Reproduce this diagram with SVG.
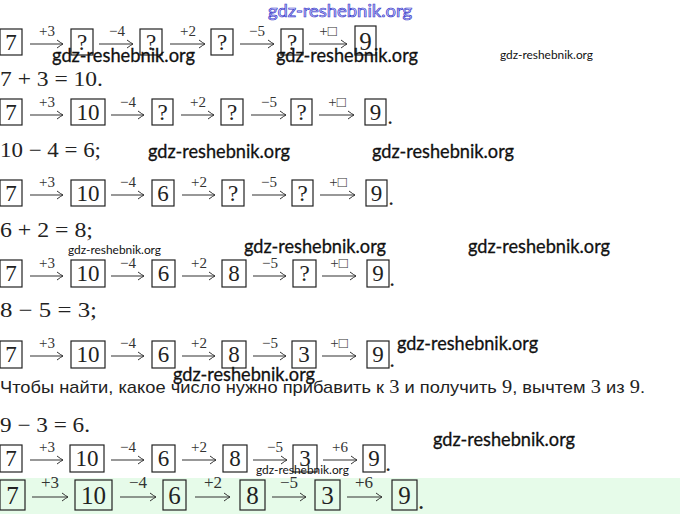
<svg xmlns="http://www.w3.org/2000/svg" width="680" height="514" viewBox="0 0 680 514">
<defs>
<marker id="ah" viewBox="-8 -5 9 10" refX="0" refY="0" markerWidth="9" markerHeight="10" markerUnits="userSpaceOnUse" orient="auto">
<path d="M-6,-4 Q-2,-1 0,0 Q-2,1 -6,4" fill="none" stroke="#333" stroke-width="1"/>
</marker>
<style>
.bx{fill:#fff;stroke:#222;stroke-width:1.2}
.gb{fill:#e6fbe9;stroke:#222;stroke-width:1.2}
.n{font-family:"Liberation Serif","DejaVu Serif",serif;font-size:23px;fill:#222;text-anchor:middle}
.n7{font-family:"Liberation Serif","DejaVu Serif",serif;font-size:25px;fill:#222;text-anchor:middle}
.ar{stroke:#333;stroke-width:1.1;fill:none;marker-end:url(#ah)}
.lb{font-family:"Liberation Serif","DejaVu Serif",serif;font-size:15px;fill:#333;text-anchor:middle}
.lb7{font-family:"Liberation Serif","DejaVu Serif",serif;font-size:17px;fill:#333;text-anchor:middle}
.eq{font-family:"Liberation Serif","DejaVu Serif",serif;font-size:21px;fill:#222}
.wm{font-family:Lato,"Open Sans",sans-serif;font-size:18.5px;fill:#111;stroke:#111;stroke-width:0.3}
.ws{font-family:Lato,"Open Sans",sans-serif;font-size:12px;fill:#111}
.ru{font-family:"Liberation Sans",Arial,sans-serif;font-size:17px;fill:#222}
.dg{font-family:"Liberation Serif",serif;font-size:19px}
</style>
</defs>
<rect x="0" y="478" width="680" height="36" fill="#e6fbe9"/>

<!-- Row 1 -->
<g id="row1">
<g id="r1b1"><rect class="bx" x="0" y="29" width="22" height="26"/><text class="n" x="11" y="50">7</text></g>
<g id="r1b2"><rect class="bx" x="71" y="29" width="22" height="26"/><text class="n" x="82" y="50">?</text></g>
<g id="r1b3"><rect class="bx" x="140" y="29" width="22" height="26"/><text class="n" x="151" y="50">?</text></g>
<g id="r1b4"><rect class="bx" x="211" y="29" width="22" height="26"/><text class="n" x="222" y="50">?</text></g>
<g id="r1b5"><rect class="bx" x="281" y="29" width="22" height="26"/><text class="n" x="292" y="50">?</text></g>
<g id="r1b6"><rect class="bx" x="355" y="26" width="21" height="29"/><text class="n7" x="365.5" y="50">9</text></g>
</g>
<text class="eq" x="0" y="86" textLength="103" lengthAdjust="spacingAndGlyphs">7 + 3 = 10.</text>

<!-- Row 2 -->
<g id="row2">
<g id="r2b1"><rect class="bx" x="0" y="99" width="22" height="26"/><text class="n" x="11" y="120">7</text></g>
<g id="r2b2"><rect class="bx" x="71" y="99" width="34" height="26"/><text class="n" x="88" y="120">10</text></g>
<g id="r2b3"><rect class="bx" x="152" y="99" width="21" height="26"/><text class="n" x="162.5" y="120">?</text></g>
<g id="r2b4"><rect class="bx" x="221" y="99" width="22" height="26"/><text class="n" x="232" y="120">?</text></g>
<g id="r2b5"><rect class="bx" x="291" y="99" width="21" height="26"/><text class="n" x="301.5" y="120">?</text></g>
<g id="r2b6"><rect class="bx" x="365" y="99" width="21" height="26"/><text class="n" x="375.5" y="120">9</text></g>
<text class="n" x="390" y="124">.</text>
</g>
<text class="eq" x="0" y="157" textLength="101" lengthAdjust="spacingAndGlyphs">10 − 4 = 6;</text>

<!-- Row 3 -->
<g id="row3">
<g id="r3b1"><rect class="bx" x="0" y="180" width="22" height="26"/><text class="n" x="11" y="201">7</text></g>
<g id="r3b2"><rect class="bx" x="71" y="180" width="34" height="26"/><text class="n" x="88" y="201">10</text></g>
<g id="r3b3"><rect class="bx" x="152" y="180" width="22" height="26"/><text class="n" x="163" y="201">6</text></g>
<g id="r3b4"><rect class="bx" x="222" y="180" width="22" height="26"/><text class="n" x="233" y="201">?</text></g>
<g id="r3b5"><rect class="bx" x="292" y="180" width="21" height="26"/><text class="n" x="302.5" y="201">?</text></g>
<g id="r3b6"><rect class="bx" x="366" y="180" width="21" height="26"/><text class="n" x="376.5" y="201">9</text></g>
<text class="n" x="391" y="205">.</text>
</g>
<text class="eq" x="0" y="237" textLength="93" lengthAdjust="spacingAndGlyphs">6 + 2 = 8;</text>

<!-- Row 4 -->
<g id="row4">
<g id="r4b1"><rect class="bx" x="0" y="260" width="22" height="27"/><text class="n" x="11" y="281">7</text></g>
<g id="r4b2"><rect class="bx" x="71" y="260" width="34" height="27"/><text class="n" x="88" y="281">10</text></g>
<g id="r4b3"><rect class="bx" x="152" y="260" width="23" height="27"/><text class="n" x="163.5" y="281">6</text></g>
<g id="r4b4"><rect class="bx" x="222" y="260" width="24" height="27"/><text class="n" x="234" y="281">8</text></g>
<g id="r4b5"><rect class="bx" x="293" y="260" width="23" height="27"/><text class="n" x="304.5" y="281">?</text></g>
<g id="r4b6"><rect class="bx" x="367" y="260" width="22" height="27"/><text class="n" x="378" y="281">9</text></g>
<text class="n" x="392" y="286">.</text>
</g>
<text class="eq" x="0" y="317" textLength="97" lengthAdjust="spacingAndGlyphs">8 − 5 = 3;</text>

<!-- Row 5 -->
<g id="row5">
<g id="r5b1"><rect class="bx" x="0" y="341" width="22" height="27"/><text class="n" x="11" y="362">7</text></g>
<g id="r5b2"><rect class="bx" x="71" y="341" width="34" height="27"/><text class="n" x="88" y="362">10</text></g>
<g id="r5b3"><rect class="bx" x="152" y="341" width="23" height="27"/><text class="n" x="163.5" y="362">6</text></g>
<g id="r5b4"><rect class="bx" x="222" y="341" width="24" height="27"/><text class="n" x="234" y="362">8</text></g>
<g id="r5b5"><rect class="bx" x="292" y="341" width="24" height="27"/><text class="n" x="304" y="362">3</text></g>
<g id="r5b6"><rect class="bx" x="367" y="341" width="22" height="27"/><text class="n" x="378" y="362">9</text></g>
<text class="n" x="392" y="367">.</text>
</g>
<text class="ru" x="0" y="393" textLength="645" lengthAdjust="spacingAndGlyphs">Чтобы найти, какое число нужно прибавить к <tspan class="dg">3</tspan> и получить <tspan class="dg">9</tspan>, вычтем <tspan class="dg">3</tspan> из <tspan class="dg">9</tspan>.</text>
<text class="eq" x="0" y="432" textLength="90" lengthAdjust="spacingAndGlyphs">9 − 3 = 6.</text>

<!-- Row 6 -->
<g id="row6">
<g id="r6b1"><rect class="bx" x="0" y="445" width="22" height="27"/><text class="n" x="11" y="466">7</text></g>
<g id="r6b2"><rect class="bx" x="70" y="445" width="34" height="27"/><text class="n" x="87" y="466">10</text></g>
<g id="r6b3"><rect class="bx" x="152" y="445" width="23" height="27"/><text class="n" x="163.5" y="466">6</text></g>
<g id="r6b4"><rect class="bx" x="223" y="445" width="24" height="27"/><text class="n" x="235" y="466">8</text></g>
<g id="r6b5"><rect class="bx" x="293" y="445" width="24" height="27"/><text class="n" x="305" y="466">3</text></g>
<g id="r6b6"><rect class="bx" x="363" y="445" width="22" height="27"/><text class="n" x="374" y="466">9</text></g>
<text class="n" x="388" y="471">.</text>
</g>

<!-- Row 7 (highlighted) -->
<g id="row7">
<g id="r7b1"><rect class="gb" x="0" y="480" width="25" height="30"/><text class="n7" x="12.5" y="504">7</text></g>
<g id="r7b2"><rect class="gb" x="75" y="480" width="37" height="30"/><text class="n7" x="93.5" y="504">10</text></g>
<g id="r7b3"><rect class="gb" x="163" y="480" width="23" height="30"/><text class="n7" x="174.5" y="504">6</text></g>
<g id="r7b4"><rect class="gb" x="240" y="480" width="25" height="30"/><text class="n7" x="252.5" y="504">8</text></g>
<g id="r7b5"><rect class="gb" x="315" y="480" width="25" height="30"/><text class="n7" x="327.5" y="504">3</text></g>
<g id="r7b6"><rect class="gb" x="392" y="480" width="25" height="30"/><text class="n7" x="404.5" y="504">9</text></g>
<text class="n7" x="421" y="509">.</text>
</g>

<!-- Connectors -->
<g id="connectors">
<path class="ar" d="M30,44H63"/><path class="ar" d="M99,44H133"/><path class="ar" d="M170,44H205"/><path class="ar" d="M240,44H274"/><path class="ar" d="M309,44H347"/>
<path class="ar" d="M30,115H63"/><path class="ar" d="M111,115H144"/><path class="ar" d="M181,115H214"/><path class="ar" d="M251,115H286"/><path class="ar" d="M319,115H354"/>
<path class="ar" d="M30,195H63"/><path class="ar" d="M111,195H144"/><path class="ar" d="M182,195H215"/><path class="ar" d="M252,195H286"/><path class="ar" d="M320,195H355"/>
<path class="ar" d="M30,276H63"/><path class="ar" d="M111,276H144"/><path class="ar" d="M182,276H215"/><path class="ar" d="M253,276H286"/><path class="ar" d="M322,276H356"/>
<path class="ar" d="M30,356H63"/><path class="ar" d="M111,356H144"/><path class="ar" d="M182,356H215"/><path class="ar" d="M253,356H286"/><path class="ar" d="M322,356H356"/>
<path class="ar" d="M30,460H63"/><path class="ar" d="M111,460H144"/><path class="ar" d="M182,460H216"/><path class="ar" d="M253,460H287"/><path class="ar" d="M323,460H357"/>
<path class="ar" d="M32,497H68"/><path class="ar" d="M120,497H156"/><path class="ar" d="M195,497H230"/><path class="ar" d="M272,497H306"/><path class="ar" d="M347,497H382"/>
</g>

<g id="labels">
<text class="lb" x="47" y="36">+3</text><text class="lb" x="117" y="36">−4</text><text class="lb" x="188" y="36">+2</text><text class="lb" x="257" y="36">−5</text><text class="lb" x="328" y="36">+□</text>
<text class="lb" x="47" y="107">+3</text><text class="lb" x="128" y="107">−4</text><text class="lb" x="198" y="107">+2</text><text class="lb" x="269" y="107">−5</text><text class="lb" x="337" y="107">+□</text>
<text class="lb" x="47" y="187">+3</text><text class="lb" x="128" y="187">−4</text><text class="lb" x="199" y="187">+2</text><text class="lb" x="269" y="187">−5</text><text class="lb" x="338" y="187">+□</text>
<text class="lb" x="47" y="268">+3</text><text class="lb" x="128" y="268">−4</text><text class="lb" x="199" y="268">+2</text><text class="lb" x="270" y="268">−5</text><text class="lb" x="339" y="268">+□</text>
<text class="lb" x="47" y="348">+3</text><text class="lb" x="128" y="348">−4</text><text class="lb" x="199" y="348">+2</text><text class="lb" x="270" y="348">−5</text><text class="lb" x="339" y="348">+□</text>
<text class="lb" x="47" y="452">+3</text><text class="lb" x="128" y="452">−4</text><text class="lb" x="199" y="452">+2</text><text class="lb" x="275" y="452">−5</text><text class="lb" x="340" y="452">+6</text>
<text class="lb7" x="50" y="488">+3</text><text class="lb7" x="138" y="488">−4</text><text class="lb7" x="213" y="488">+2</text><text class="lb7" x="289" y="488">−5</text><text class="lb7" x="364" y="488">+6</text>
</g>

<g id="watermarks">
<text x="268" y="17" font-family="Lato,'Open Sans',sans-serif" font-size="18px" fill="#d6d6ff" stroke="#3535c8" stroke-width="0.7" textLength="144" lengthAdjust="spacingAndGlyphs">gdz-reshebnik.org</text>
<text class="wm" x="52" y="62" textLength="143" lengthAdjust="spacingAndGlyphs">gdz-reshebnik.org</text>
<text class="wm" x="276" y="62" textLength="142" lengthAdjust="spacingAndGlyphs">gdz-reshebnik.org</text>
<text class="ws" x="500" y="59" textLength="93" lengthAdjust="spacingAndGlyphs">gdz-reshebnik.org</text>
<text class="wm" x="148" y="158" textLength="142" lengthAdjust="spacingAndGlyphs">gdz-reshebnik.org</text>
<text class="wm" x="372" y="158" textLength="142" lengthAdjust="spacingAndGlyphs">gdz-reshebnik.org</text>
<text class="ws" x="68" y="254" textLength="93" lengthAdjust="spacingAndGlyphs">gdz-reshebnik.org</text>
<text class="wm" x="244" y="253" textLength="142" lengthAdjust="spacingAndGlyphs">gdz-reshebnik.org</text>
<text class="wm" x="468" y="253" textLength="142" lengthAdjust="spacingAndGlyphs">gdz-reshebnik.org</text>
<text class="wm" x="397" y="350" textLength="141" lengthAdjust="spacingAndGlyphs">gdz-reshebnik.org</text>
<text class="wm" x="173" y="381" textLength="142" lengthAdjust="spacingAndGlyphs">gdz-reshebnik.org</text>
<text class="wm" x="433" y="446" textLength="142" lengthAdjust="spacingAndGlyphs">gdz-reshebnik.org</text>
<text class="ws" x="256" y="474" textLength="93" lengthAdjust="spacingAndGlyphs">gdz-reshebnik.org</text>
</g>
</svg>
